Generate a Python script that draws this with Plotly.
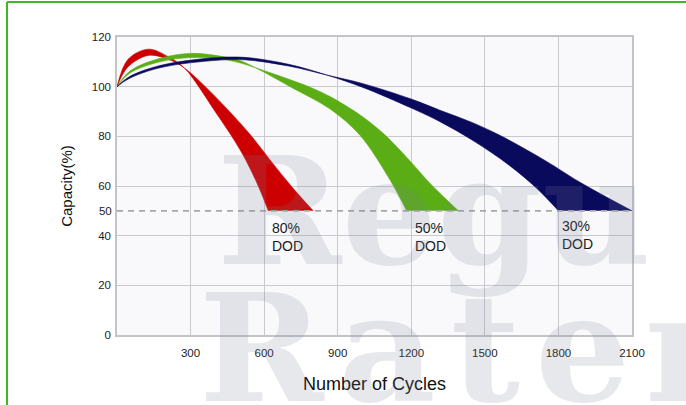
import plotly.graph_objects as go

# ---------------- data ----------------
x_ticks = [300, 600, 900, 1200, 1500, 1800, 2100]
y_ticks = [0, 20, 40, 60, 80, 100, 120]
cutoff = 50

# 80% DOD (red): fast boundary and slow boundary of the band
red_fast_x = [0, 45, 128, 210, 275, 340, 400, 468, 525, 576, 617]
red_fast_y = [100, 111, 115.1, 112, 107.5, 99, 90, 80, 70.5, 60, 50]
red_slow_x = [0, 45, 128, 210, 275, 360, 468, 549, 628, 710, 800]
red_slow_y = [100, 108, 112.6, 111, 107.5, 100, 89, 80, 70, 60, 50]

# 50% DOD (green)
green_fast_x = [0, 53, 175, 300, 420, 500, 565, 706, 869, 990, 1110, 1181]
green_fast_y = [100, 106.3, 111.4, 113.4, 112.3, 110.5, 107.6, 100, 91, 80.5, 63, 50]
green_slow_x = [0, 53, 175, 300, 420, 500, 565, 706, 794, 869, 1000, 1093, 1200, 1277, 1392]
green_slow_y = [100, 105.5, 110, 111.7, 111.2, 109.6, 107.6, 102.8, 99.5, 96, 88, 80.5, 69.5, 61, 50]

# 30% DOD (navy)
blue_fast_x = [0, 50, 175, 380, 520, 700, 855, 1000, 1200, 1317, 1453, 1600, 1712, 1800]
blue_fast_y = [100, 104, 108.5, 111.5, 111.8, 109, 104.7, 99.8, 91.4, 85.9, 78.2, 68.3, 59, 50]
blue_slow_x = [0, 50, 175, 380, 520, 700, 855, 1000, 1200, 1317, 1450, 1569, 1750, 1888, 2100]
blue_slow_y = [100, 103.3, 107.6, 110.4, 110.8, 108.3, 104.7, 101.3, 95, 90.5, 85.5, 80, 70, 61.5, 50]

labels = ["80%<br>DOD", "50%<br>DOD", "30%<br>DOD"]
label_x = [622, 1205, 1805]
label_y = [47, 47, 48]

series = [
    (red_fast_x, red_fast_y, red_slow_x, red_slow_y, "#cc0000"),
    (green_fast_x, green_fast_y, green_slow_x, green_slow_y, "#5aad14"),
    (blue_fast_x, blue_fast_y, blue_slow_x, blue_slow_y, "#0a0a5c"),
]

FONT = "Liberation Sans, Arial, sans-serif"

fig = go.Figure()

for fx, fy, sx, sy, col in series:
    fig.add_trace(go.Scatter(x=sx, y=sy, mode="lines", line=dict(color=col, width=0.6, shape="spline"),
                             hoverinfo="skip", showlegend=False))
    fig.add_trace(go.Scatter(x=fx, y=fy, mode="lines", line=dict(color=col, width=0.6, shape="spline"),
                             fill="tonexty", fillcolor=col, hoverinfo="skip", showlegend=False))

# invisible trace on second y axis (only for the "50" tick label)
fig.add_trace(go.Scatter(x=[None], y=[None], yaxis="y2", showlegend=False))

# dashed cut-off line
fig.add_shape(type="line", xref="paper", x0=0, x1=1, yref="y", y0=cutoff, y1=cutoff,
              line=dict(color="#a8a8a8", width=1.6, dash="6px,5px"), layer="above")

for t, lx, ly in zip(labels, label_x, label_y):
    fig.add_annotation(x=lx, y=ly, text=t, showarrow=False, xanchor="left", yanchor="top",
                       align="left", font=dict(family=FONT, size=14, color="#1a1a1a"))

# watermark text
wm = "rgba(120,130,150,0.18)"
hs = "\u200a"
fig.add_annotation(xref="paper", yref="paper", x=0.19, y=0.415, text="<b>Regu</b>",
                   showarrow=False, xanchor="left", yanchor="middle",
                   font=dict(family="DejaVu Serif", size=150, color=wm))
fig.add_annotation(xref="paper", yref="paper", x=0.155, y=-0.045, text="<b>" + hs.join("Rater") + "</b>",
                   showarrow=False, xanchor="left", yanchor="middle",
                   font=dict(family="DejaVu Serif", size=150, color=wm))

# green frame of the picture
fig.add_shape(type="line", xref="paper", yref="paper", x0=-0.2136, x1=1.2, y0=1.1174, y1=1.1174,
              line=dict(color="#3cba1e", width=2))
fig.add_shape(type="line", xref="paper", yref="paper", x0=-0.2136, x1=-0.2136, y0=1.1174, y1=-0.3,
              line=dict(color="#3cba1e", width=2))

fig.update_layout(
    width=686, height=405,
    margin=dict(l=117, r=54, t=37, b=70),
    paper_bgcolor="white",
    plot_bgcolor="#f9f9fb",
    font=dict(family=FONT, size=11, color="#333333"),
    showlegend=False,
    xaxis=dict(range=[0, 2100], tickvals=x_ticks, showgrid=True, gridcolor="#c9c9cf", gridwidth=1,
               showline=True, linecolor="#c4c4c8", linewidth=1.5, mirror=True, zeroline=False,
               ticks="outside", ticklen=6, tickcolor="rgba(0,0,0,0)",
               tickfont=dict(family=FONT, size=11.5, color="#222"),
               title=dict(text="Number of Cycles", font=dict(family=FONT, size=18, color="#111"), standoff=20)),
    yaxis=dict(range=[0, 120], tickvals=y_ticks, showgrid=True, gridcolor="#c9c9cf", gridwidth=1,
               showline=True, linecolor="#c4c4c8", linewidth=1.5, mirror=True, zeroline=False,
               ticks="outside", ticklen=2, tickcolor="rgba(0,0,0,0)",
               tickfont=dict(family=FONT, size=11.5, color="#222"),
               title=dict(text="Capacity(%)", font=dict(family=FONT, size=15, color="#111"), standoff=16)),
    yaxis2=dict(range=[0, 120], overlaying="y", side="left", tickvals=[cutoff], showgrid=False,
                zeroline=False, showline=False, ticks="outside", ticklen=2, tickcolor="rgba(0,0,0,0)",
                tickfont=dict(family=FONT, size=11.5, color="#222")),
)

fig.write_html("out.html", config={"displayModeBar": False},
               post_script="document.body.style.margin='0';document.body.style.overflow='hidden';")
